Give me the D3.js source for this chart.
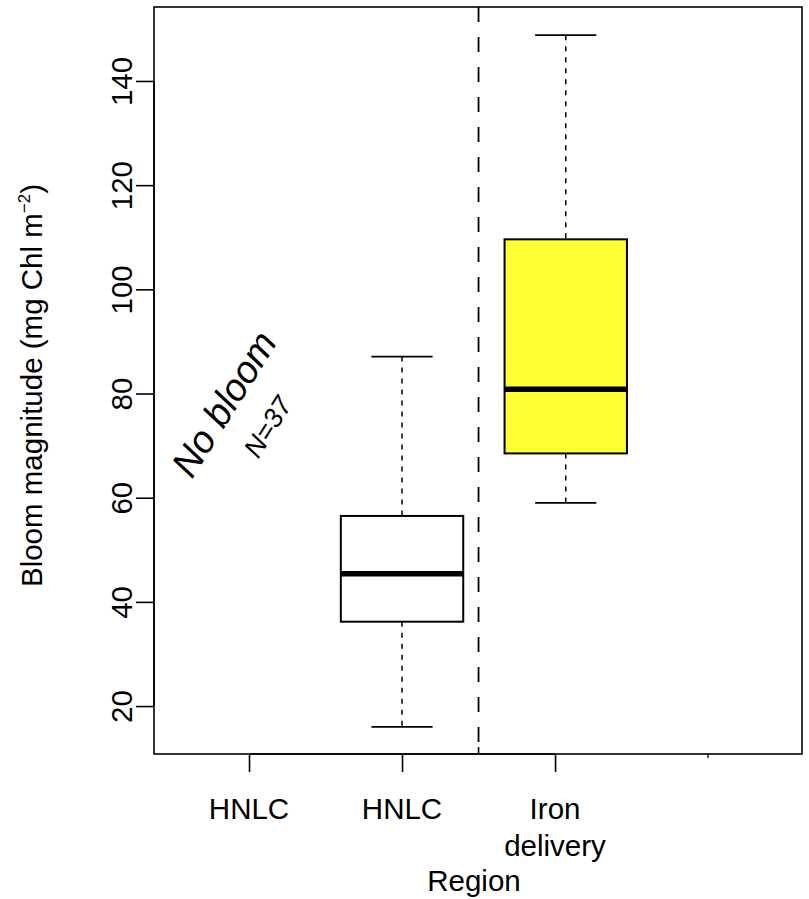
<!DOCTYPE html>
<html>
<head>
<meta charset="utf-8">
<script src="https://cdn.jsdelivr.net/npm/d3@7"></script>
<style>
  html, body { margin: 0; padding: 0; background: #fff; }
  svg { display: block; font-family: "Liberation Sans", Arial, Helvetica, sans-serif; }
</style>
</head>
<body>
<svg id="chart" width="809" height="899"></svg>
<script>
// Region groups on the x axis (positions 1..3)
const categories = ["HNLC", "HNLC", "Iron\ndelivery"];
const categoryPos = [1, 2, 3];

// Box statistics for the two regions that bloomed
const boxNames = ["HNLC", "Iron delivery"];
const boxPos = [2, 3.07];
const boxLow = [16.0, 59.0];
const boxQ1 = [36.2, 68.5];
const boxMedian = [45.4, 80.8];
const boxQ3 = [56.5, 109.6];
const boxHigh = [87.1, 148.8];
const boxFill = ["#ffffff", "#ffff33"];

const yTicks = [20, 40, 60, 80, 100, 120, 140];

const svg = d3.select("#chart");
const mLeft = 154, mRight = 802, mTop = 7, mBottom = 754;
const labelSize = 29.5;

const x = d3.scaleLinear().domain([0.379, 4.614]).range([mLeft, mRight]);
const y = d3.scaleLinear().domain([10.8, 154.2]).range([mBottom, mTop]);

const boxHalf = (x(0.4) - x(0));
const capHalf = boxHalf / 2;

// Y axis
const yAxis = d3.axisLeft(y).tickValues(yTicks).tickSize(18).tickSizeOuter(0);
const gy = svg.append("g").attr("transform", `translate(${mLeft},0)`).call(yAxis);
gy.select(".domain").attr("stroke", "#000").attr("stroke-width", 1.6).attr("d", `M0,${y(20)}V${y(140)}`);
gy.selectAll(".tick line").attr("stroke", "#000").attr("stroke-width", 1.6);
gy.selectAll(".tick text")
  .attr("font-size", labelSize)
  .attr("fill", "#000")
  .attr("font-family", "'Liberation Sans', Arial, sans-serif")
  .attr("text-anchor", "middle")
  .attr("transform", `translate(-33,0) rotate(-90)`)
  .attr("x", 0).attr("y", 0).attr("dy", "0")
  .attr("dominant-baseline", "central");

// X axis
const xAxis = d3.axisBottom(x).tickValues(categoryPos).tickSize(18).tickFormat("").tickSizeOuter(0);
const gx = svg.append("g").attr("transform", `translate(0,${mBottom})`).call(xAxis);
gx.select(".domain").attr("stroke", "#000").attr("stroke-width", 1.6).attr("d", `M${x(1)},0H${x(3)}`);
gx.selectAll(".tick line").attr("stroke", "#000").attr("stroke-width", 1.6);

categories.forEach((c, i) => {
  const lines = c.split("\n");
  const t = svg.append("text")
    .attr("x", x(categoryPos[i]))
    .attr("y", 819)
    .attr("text-anchor", "middle")
    .attr("font-size", labelSize)
    .attr("fill", "#000");
  lines.forEach((ln, j) => {
    t.append("tspan").attr("x", x(categoryPos[i])).attr("dy", j === 0 ? 0 : 37).text(ln);
  });
});

// Small extra ticks on the lower frame
svg.append("line").attr("x1", x(2.5)).attr("x2", x(2.5)).attr("y1", mBottom).attr("y2", mBottom - 7)
  .attr("stroke", "#000").attr("stroke-width", 1.6);
svg.append("line").attr("x1", x(4)).attr("x2", x(4)).attr("y1", mBottom).attr("y2", mBottom + 4)
  .attr("stroke", "#000").attr("stroke-width", 1.3);

// Axis titles
svg.append("text")
  .attr("x", (mLeft + mRight) / 2 - 4)
  .attr("y", 891)
  .attr("text-anchor", "middle")
  .attr("font-size", labelSize)
  .attr("fill", "#000")
  .text("Region");

const ytitle = svg.append("text")
  .attr("transform", `translate(42,${(mTop + mBottom) / 2 + 5}) rotate(-90)`)
  .attr("text-anchor", "middle")
  .attr("font-size", labelSize)
  .attr("fill", "#000");
ytitle.append("tspan").text("Bloom magnitude (mg Chl m");
ytitle.append("tspan").attr("font-size", 17).attr("dy", -12).text("\u22122");
ytitle.append("tspan").attr("dy", 12).text(")");

// Divider between regions
svg.append("line")
  .attr("x1", x(2.5)).attr("x2", x(2.5))
  .attr("y1", mTop).attr("y2", mBottom)
  .attr("stroke", "#000").attr("stroke-width", 1.8)
  .attr("stroke-dasharray", "15,15");

// Boxplots
boxNames.forEach((name, i) => {
  const cx = x(boxPos[i]);
  const g = svg.append("g");
  // whiskers
  g.append("line").attr("x1", cx).attr("x2", cx).attr("y1", y(boxHigh[i])).attr("y2", y(boxQ3[i]))
    .attr("stroke", "#000").attr("stroke-width", 1.5).attr("stroke-dasharray", "5,6");
  g.append("line").attr("x1", cx).attr("x2", cx).attr("y1", y(boxQ1[i])).attr("y2", y(boxLow[i]))
    .attr("stroke", "#000").attr("stroke-width", 1.5).attr("stroke-dasharray", "5,6");
  // caps
  [boxHigh[i], boxLow[i]].forEach(v => {
    g.append("line").attr("x1", cx - capHalf).attr("x2", cx + capHalf).attr("y1", y(v)).attr("y2", y(v))
      .attr("stroke", "#000").attr("stroke-width", 1.8);
  });
  // box
  g.append("rect")
    .attr("x", cx - boxHalf).attr("width", 2 * boxHalf)
    .attr("y", y(boxQ3[i])).attr("height", y(boxQ1[i]) - y(boxQ3[i]))
    .attr("fill", boxFill[i]).attr("stroke", "#000").attr("stroke-width", 2);
  // median
  g.append("line").attr("x1", cx - boxHalf).attr("x2", cx + boxHalf)
    .attr("y1", y(boxMedian[i])).attr("y2", y(boxMedian[i]))
    .attr("stroke", "#000").attr("stroke-width", 5.5);
});

// Plot frame
svg.append("rect").attr("x", mLeft).attr("y", mTop).attr("width", mRight - mLeft).attr("height", mBottom - mTop)
  .attr("fill", "none").attr("stroke", "#000").attr("stroke-width", 1.6);

// Annotation for the region without a bloom
svg.append("text")
  .attr("transform", `translate(224,404) rotate(-58)`)
  .attr("text-anchor", "middle")
  .attr("dominant-baseline", "central")
  .attr("font-size", 38)
  .attr("font-style", "italic")
  .attr("fill", "#000")
  .text("No bloom");
svg.append("text")
  .attr("transform", `translate(268,427) rotate(-58)`)
  .attr("text-anchor", "middle")
  .attr("dominant-baseline", "central")
  .attr("font-size", 27)
  .attr("font-style", "italic")
  .attr("fill", "#000")
  .text("N=37");
</script>
</body>
</html>
